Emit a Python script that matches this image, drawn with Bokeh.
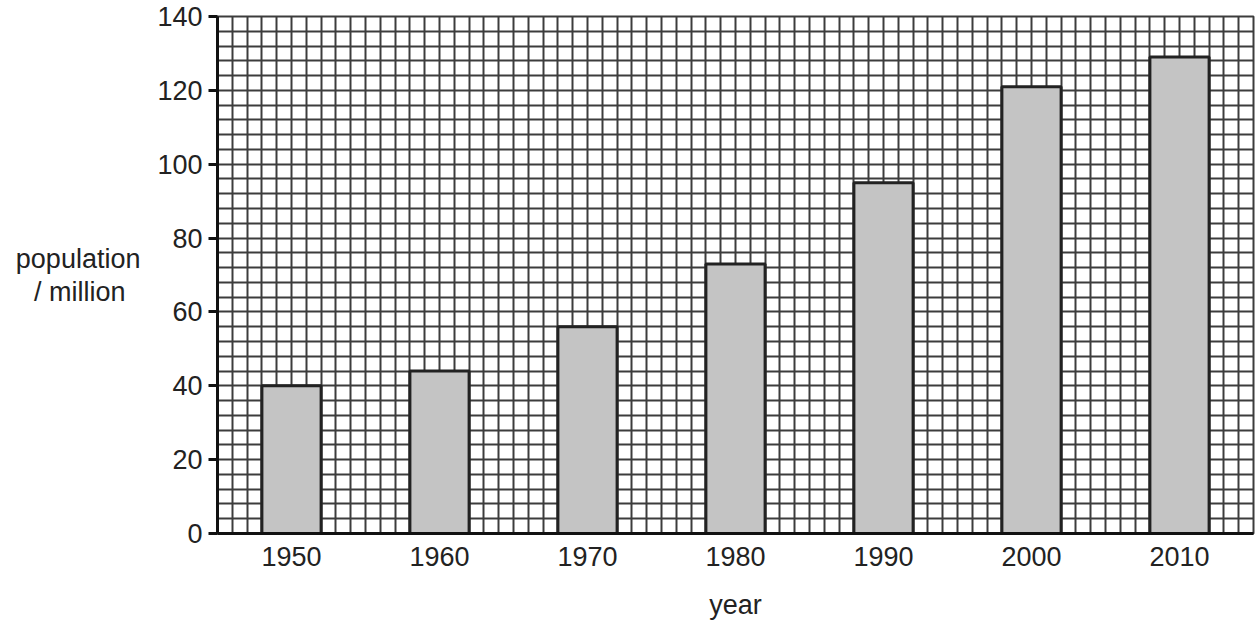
from bokeh.plotting import figure
from bokeh.models import SingleIntervalTicker, FixedTicker, Range1d, ColumnDataSource
from bokeh.embed import file_html
from bokeh.resources import INLINE

years = [1950, 1960, 1970, 1980, 1990, 2000, 2010]
population = [40, 44, 56, 73, 95, 121, 129]
y_ticks = [0, 20, 40, 60, 80, 100, 120, 140]

FONT = "Liberation Sans"
TXT = "#222222"

p = figure(width=1258, height=622, output_backend="svg", toolbar_location=None,
           x_range=Range1d(1945, 2015), y_range=Range1d(0, 140),
           min_border_left=217, min_border_right=5, min_border_top=16, min_border_bottom=89)

src = ColumnDataSource(dict(x=years, top=population))
p.vbar(x="x", top="top", bottom=0, width=4, source=src,
       fill_color="#c4c4c4", line_color="#222222", line_width=3)

# grid
p.xgrid.ticker = SingleIntervalTicker(interval=1)
p.ygrid.ticker = SingleIntervalTicker(interval=4)
for g in (p.xgrid, p.ygrid):
    g.grid_line_color = "#3c3c3c"
    g.grid_line_width = 2
    g.grid_line_alpha = 1
    g.level = "underlay"
p.outline_line_color = "#3c3c3c"
p.outline_line_width = 2
p.background_fill_color = "white"

# axes
p.xaxis.ticker = FixedTicker(ticks=years)
p.yaxis.ticker = FixedTicker(ticks=y_ticks)
for ax in (p.xaxis, p.yaxis):
    ax.axis_line_color = "#111111"
    ax.axis_line_width = 3
    ax.major_tick_line_color = "#111111"
    ax.major_tick_line_width = 3
    ax.minor_tick_line_color = None
    ax.major_label_text_font = FONT
    ax.major_label_text_font_size = "27px"
    ax.major_label_text_color = TXT
    ax.axis_label_text_font = FONT
    ax.axis_label_text_font_size = "27px"
    ax.axis_label_text_font_style = "normal"
    ax.axis_label_text_color = TXT

p.xaxis.major_tick_out = 0
p.xaxis.major_tick_in = 0
p.xaxis.major_label_standoff = 13
p.xaxis.axis_label = "year"
p.xaxis.axis_label_standoff = 21

p.yaxis.major_tick_out = 9
p.yaxis.major_tick_in = 0
p.yaxis.major_label_standoff = 6
p.yaxis.axis_label = "population\n/ million\u00a0\u00a0"
p.yaxis.axis_label_orientation = "horizontal"
p.yaxis.axis_label_text_line_height = 1.1
p.yaxis.axis_label_standoff = 14

open("out.html", "w").write(file_html(p, INLINE))
